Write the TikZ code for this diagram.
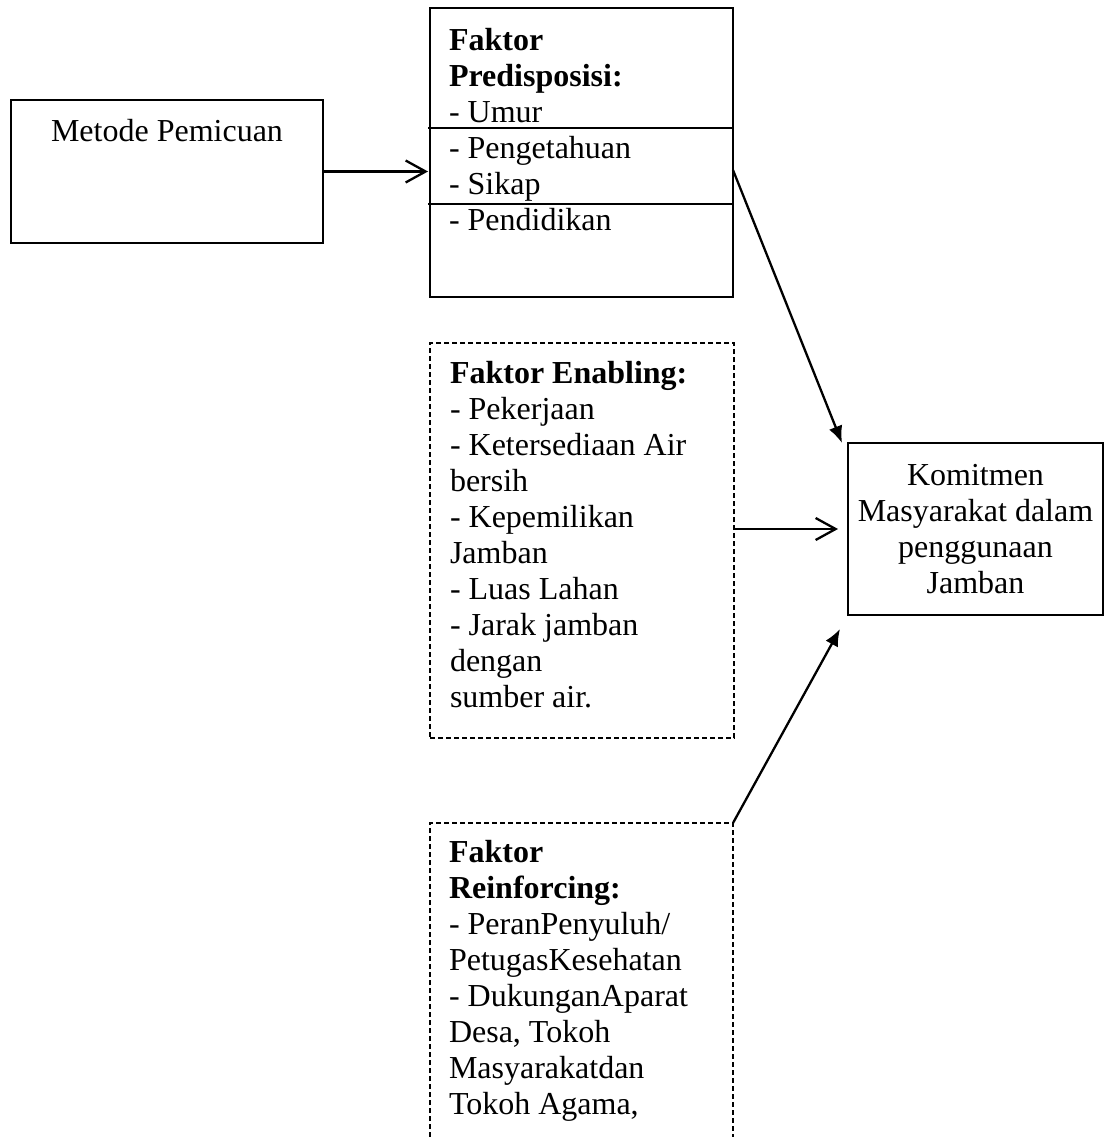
\documentclass[tikz,border=0pt]{standalone}
\usepackage{fontspec}
\setmainfont{Liberation Serif}
\usetikzlibrary{arrows.meta,calc}
\newcommand\firstline{\rule{0pt}{28pt}}
\begin{document}
\begin{tikzpicture}[x=1pt,y=-1pt,
  box/.style={draw, line width=1.3pt, rectangle, inner sep=0pt, outer sep=0pt, anchor=north west},
  dbox/.style={box, dash pattern=on 5pt off 3pt},
  dline/.style={line width=1.3pt, dash pattern=on 5pt off 3pt},
  txt/.style={inner sep=0pt, outer sep=0pt, font=\fontsize{32}{36}\selectfont, align=left, anchor=north west},
  ctxt/.style={txt, align=center, anchor=north},
  arr/.style={line width=2.3pt, -{Straight Barb[length=20pt,width=22pt,line width=2.3pt]}},
  farr/.style={line width=2.3pt, -{Latex[length=17pt,width=14pt]}}]
\useasboundingbox (0,0) rectangle (1104,1137);
% boxes
\node[box, minimum width=312pt, minimum height=143pt] (metode) at (11,100) {};
\node[box, minimum width=303pt, minimum height=289pt] (pred) at (430,8) {};
\node[dbox, minimum width=304pt, minimum height=395pt] (enab) at (430,343) {};
\node[box, minimum width=255pt, minimum height=172pt] (kom) at (848,443) {};
\node[inner sep=0pt, outer sep=0pt, anchor=north west, minimum width=303pt, minimum height=314pt] (reinf) at (430,823) {};
\draw[dline] (reinf.south west) -- (reinf.north west) -- (reinf.north east) -- (reinf.south east);
% separators in predisposisi box
\draw[line width=1.3pt] ($(pred.north west)+(-2,120)$) -- ($(pred.north east)+(0,120)$);
\draw[line width=1.3pt] ($(pred.north west)+(-2,196)$) -- ($(pred.north east)+(0,196)$);
% texts
\node[ctxt] (metodeT) at (167,113) {\firstline Metode Pemicuan};
\node[txt] (predT) at (449,22) {\firstline\textbf{Faktor}\\\textbf{Predisposisi:}\\- Umur\\- Pengetahuan\\- Sikap\\- Pendidikan};
\node[txt] (enabT) at (450,355) {\firstline\textbf{Faktor Enabling:}\\- Pekerjaan\\- Ketersediaan Air\\bersih\\- Kepemilikan\\Jamban\\- Luas Lahan\\- Jarak jamban\\dengan\\sumber air.};
\node[txt] (reinfT) at (449,834) {\firstline\textbf{Faktor}\\\textbf{Reinforcing:}\\- PeranPenyuluh/\\PetugasKesehatan\\- DukunganAparat\\Desa, Tokoh\\Masyarakatdan\\Tokoh Agama,};
\node[ctxt] (komT) at (975.5,457) {\firstline Komitmen\\Masyarakat dalam\\penggunaan\\Jamban};
% connectors
\draw[arr] (metode.east) -- ($(metode.east -| pred.west)+(-2,0)$);
\draw[arr] (kom.west -| enab.east) -- ($(kom.west)+(-10,0)$);
\draw[farr] ($(pred.north east)+(0,162)$) -- ($(kom.north west)+(-6,0)$);
\draw[farr] (reinf.north east) -- ($(kom.south west)+(-8,14)$);
\end{tikzpicture}
\end{document}
